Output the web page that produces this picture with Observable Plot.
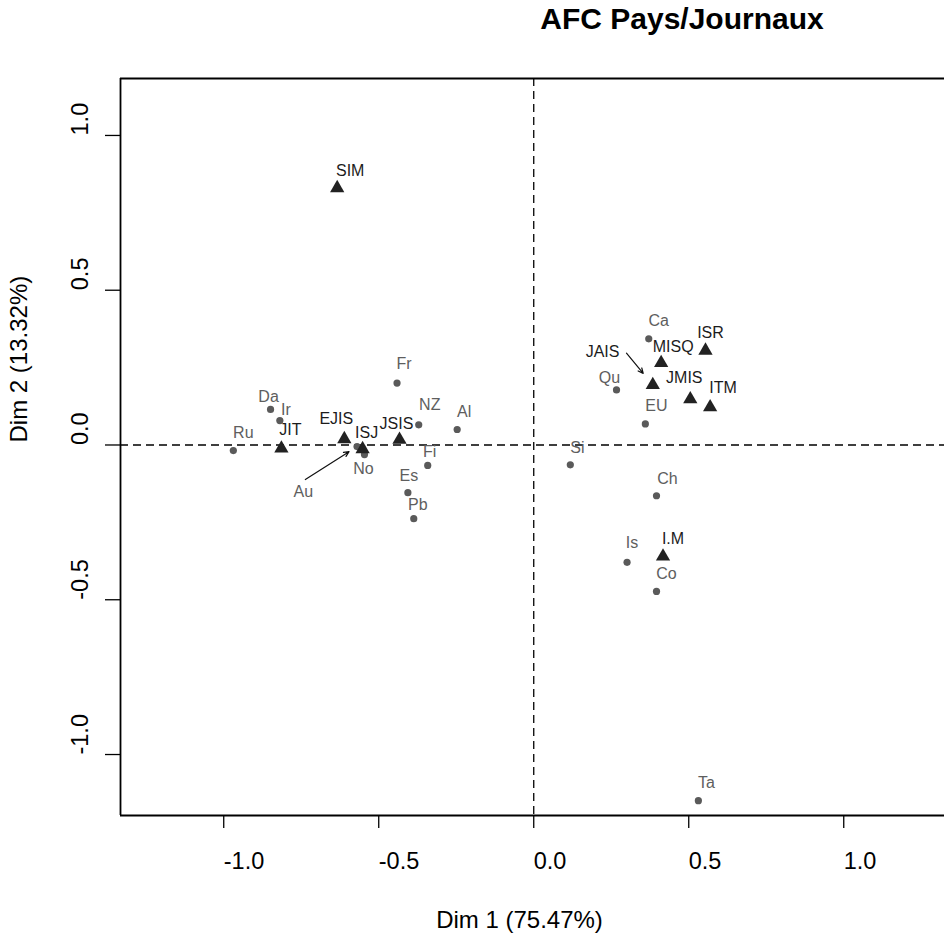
<!DOCTYPE html>
<html>
<head>
<meta charset="utf-8">
<script src="https://cdn.jsdelivr.net/npm/d3@7"></script>
<script src="https://cdn.jsdelivr.net/npm/@observablehq/plot@0.6"></script>
<style>
  body { margin: 0; background: #fff; }
  #wrap { position: relative; width: 944px; height: 933px; overflow: hidden; background: #fff; }
  #title { position: absolute; left: 682px; top: 4px; transform: translateX(-50%);
           font: bold 30px "Liberation Sans", Arial, sans-serif; line-height: 1; white-space: nowrap; color: #000; }
  #chart { position: absolute; left: 0; top: 50px; }
</style>
</head>
<body>
<div id="wrap">
  <div id="title">AFC Pays/Journaux</div>
  <div id="chart"></div>
</div>
<script>
// ---- data ----
const countries   = ["Ru","Da","Ir","Au","No","Fr","NZ","Al","Fi","Es","Pb","Ca","Qu","EU","Si","Ch","Is","Co","Ta"];
const countryDim1 = [-0.969,-0.849,-0.819,-0.570,-0.546,-0.441,-0.371,-0.247,-0.342,-0.406,-0.387,0.371,0.267,0.360,0.118,0.396,0.301,0.396,0.531];
const countryDim2 = [-0.018,0.115,0.079,-0.005,-0.031,0.200,0.065,0.050,-0.066,-0.154,-0.238,0.343,0.178,0.068,-0.064,-0.164,-0.379,-0.473,-1.149];

const journals    = ["SIM","JIT","EJIS","ISJ","JSIS","MISQ","ISR","JAIS","JMIS","ITM","I.M"];
const journalDim1 = [-0.634,-0.814,-0.611,-0.552,-0.433,0.411,0.554,0.384,0.505,0.569,0.417];
const journalDim2 = [0.830,-0.011,0.019,-0.013,0.017,0.265,0.305,0.194,0.148,0.122,-0.360];

const xTicks = [-1, -0.5, 0, 0.5, 1];
const yTicks = [-1, -0.5, 0, 0.5, 1];
const tickLabels = ["-1.0", "-0.5", "0.0", "0.5", "1.0"];

const xTitle = "Dim 1 (75.47%)";
const yTitle = "Dim 2 (13.32%)";

// ---- label placement (pixel offsets of text from its point) ----
const labelOffsets = {
  Ru:[10,-18], Da:[-2,-13], Ir:[6,-11], No:[-1,14], Fr:[7,-19], NZ:[11,-20], Al:[7,-18],
  Fi:[2,-14], Es:[1,-17], Pb:[4,-14], Ca:[10,-18], Qu:[-7,-12], EU:[11,-18], Si:[7,-17],
  Ch:[11,-17], Is:[5,-19], Co:[10,-18], Ta:[8,-18],
  SIM:[13,-17], JIT:[9,-19], EJIS:[-8,-20], ISJ:[4,-16], JSIS:[-3,-16], MISQ:[12,-16],
  ISR:[5,-18], JMIS:[-6,-21], ITM:[13,-19], "I.M":[10,-18]
};
// labels drawn away from their point with an arrow: [arrow start dx, dy, text dx, dy, insetEnd, anchor]
const arrowLabels = {
  Au:   [-51.7, 33, -2, 12, 9.5, "middle"],
  JAIS: [-26.3, -31.7, -7, -1, 15, "end"]
};

// ---- build tables ----
const countryData = countries.map((n, i) => ({name: n, x: countryDim1[i], y: countryDim2[i], type: "country"}));
const journalData = journals.map((n, i) => ({name: n, x: journalDim1[i], y: journalDim2[i], type: "journal"}));

const W = 944, H = 883, mL = 120, mR = 0, mT = 28, mB = 118;
const xDomain = [-1.333, 1.325], yDomain = [-1.197, 1.184];
const kx = (W - mL - mR) / (xDomain[1] - xDomain[0]);
const ky = (H - mT - mB) / (yDomain[1] - yDomain[0]);

const FONT = "Liberation Sans, Arial, sans-serif";
const countryColor = "#5a5a5a", countryText = "#5e5e5e";
const journalColor = "#222222", journalText = "#1c1c1c";
const LABEL_SIZE = 16;

const labelMarks = [];
for (const d of [...countryData, ...journalData]) {
  const col = d.type === "country" ? countryText : journalText;
  if (arrowLabels[d.name]) {
    const [ax, ay, tx, ty, inset, anchor] = arrowLabels[d.name];
    const a = {x1: d.x + ax / kx, y1: d.y - ay / ky, x2: d.x, y2: d.y};
    labelMarks.push(Plot.arrow([a], {x1: "x1", y1: "y1", x2: "x2", y2: "y2", insetEnd: inset,
      headLength: 7, headAngle: 50, stroke: "#111", strokeWidth: 1.2}));
    labelMarks.push(Plot.text([a], {x: "x1", y: "y1", text: () => d.name, dx: tx, dy: ty,
      textAnchor: anchor, fill: col, fontSize: LABEL_SIZE, fontFamily: FONT}));
  } else {
    const [dx, dy] = labelOffsets[d.name];
    labelMarks.push(Plot.text([d], {x: "x", y: "y", text: "name", dx, dy,
      fill: col, fontSize: LABEL_SIZE, fontFamily: FONT}));
  }
}

const chart = Plot.plot({
  width: W, height: H,
  marginLeft: mL, marginRight: mR, marginTop: mT, marginBottom: mB,
  style: {fontFamily: FONT, background: "#fff", overflow: "visible"},
  x: {domain: xDomain},
  y: {domain: yDomain},
  marks: [
    // frame (top, left, bottom)
    Plot.ruleY([yDomain[1]], {stroke: "#000", strokeWidth: 1.8}),
    Plot.ruleY([yDomain[0]], {stroke: "#000", strokeWidth: 1.8}),
    Plot.ruleX([xDomain[0]], {stroke: "#000", strokeWidth: 1.8}),
    // dashed origin lines
    Plot.ruleY([0], {stroke: "#000", strokeWidth: 1.3, strokeDasharray: "8,5"}),
    Plot.ruleX([0], {stroke: "#000", strokeWidth: 1.3, strokeDasharray: "8,5"}),
    // ticks
    Plot.axisX({ticks: xTicks, tickSize: 13, tickFormat: () => "", label: null, stroke: "#000", strokeWidth: 1.3}),
    Plot.axisY({ticks: yTicks, tickSize: 15, tickFormat: () => "", label: null, stroke: "#000", strokeWidth: 1.3}),
    // tick labels
    Plot.text(xTicks, {x: d => d, text: (d, i) => tickLabels[i], frameAnchor: "bottom", dy: 53,
      textAnchor: "start", lineAnchor: "bottom", fontSize: 23.5, fill: "#000"}),
    Plot.text(yTicks, {y: d => d, text: (d, i) => tickLabels[i], frameAnchor: "left", dx: -33, rotate: -90,
      textAnchor: "start", lineAnchor: "bottom", fontSize: 23.5, fill: "#000"}),
    // axis titles
    Plot.text([xTitle], {text: d => d, frameAnchor: "bottom", dx: -13, dy: 112,
      textAnchor: "middle", lineAnchor: "bottom", fontSize: 24, fill: "#000"}),
    Plot.text([yTitle], {text: d => d, frameAnchor: "left", dx: -101, dy: -4.5, rotate: -90,
      textAnchor: "start", lineAnchor: "middle", fontSize: 24, fill: "#000"}),
    // points
    Plot.dot(countryData, {x: "x", y: "y", r: 3.6, fill: countryColor, stroke: "none"}),
    Plot.dot(journalData, {x: "x", y: "y", r: 5.3, symbol: "triangle", fill: journalColor, stroke: "none"}),
    ...labelMarks
  ]
});
document.getElementById("chart").appendChild(chart);
</script>
</body>
</html>
